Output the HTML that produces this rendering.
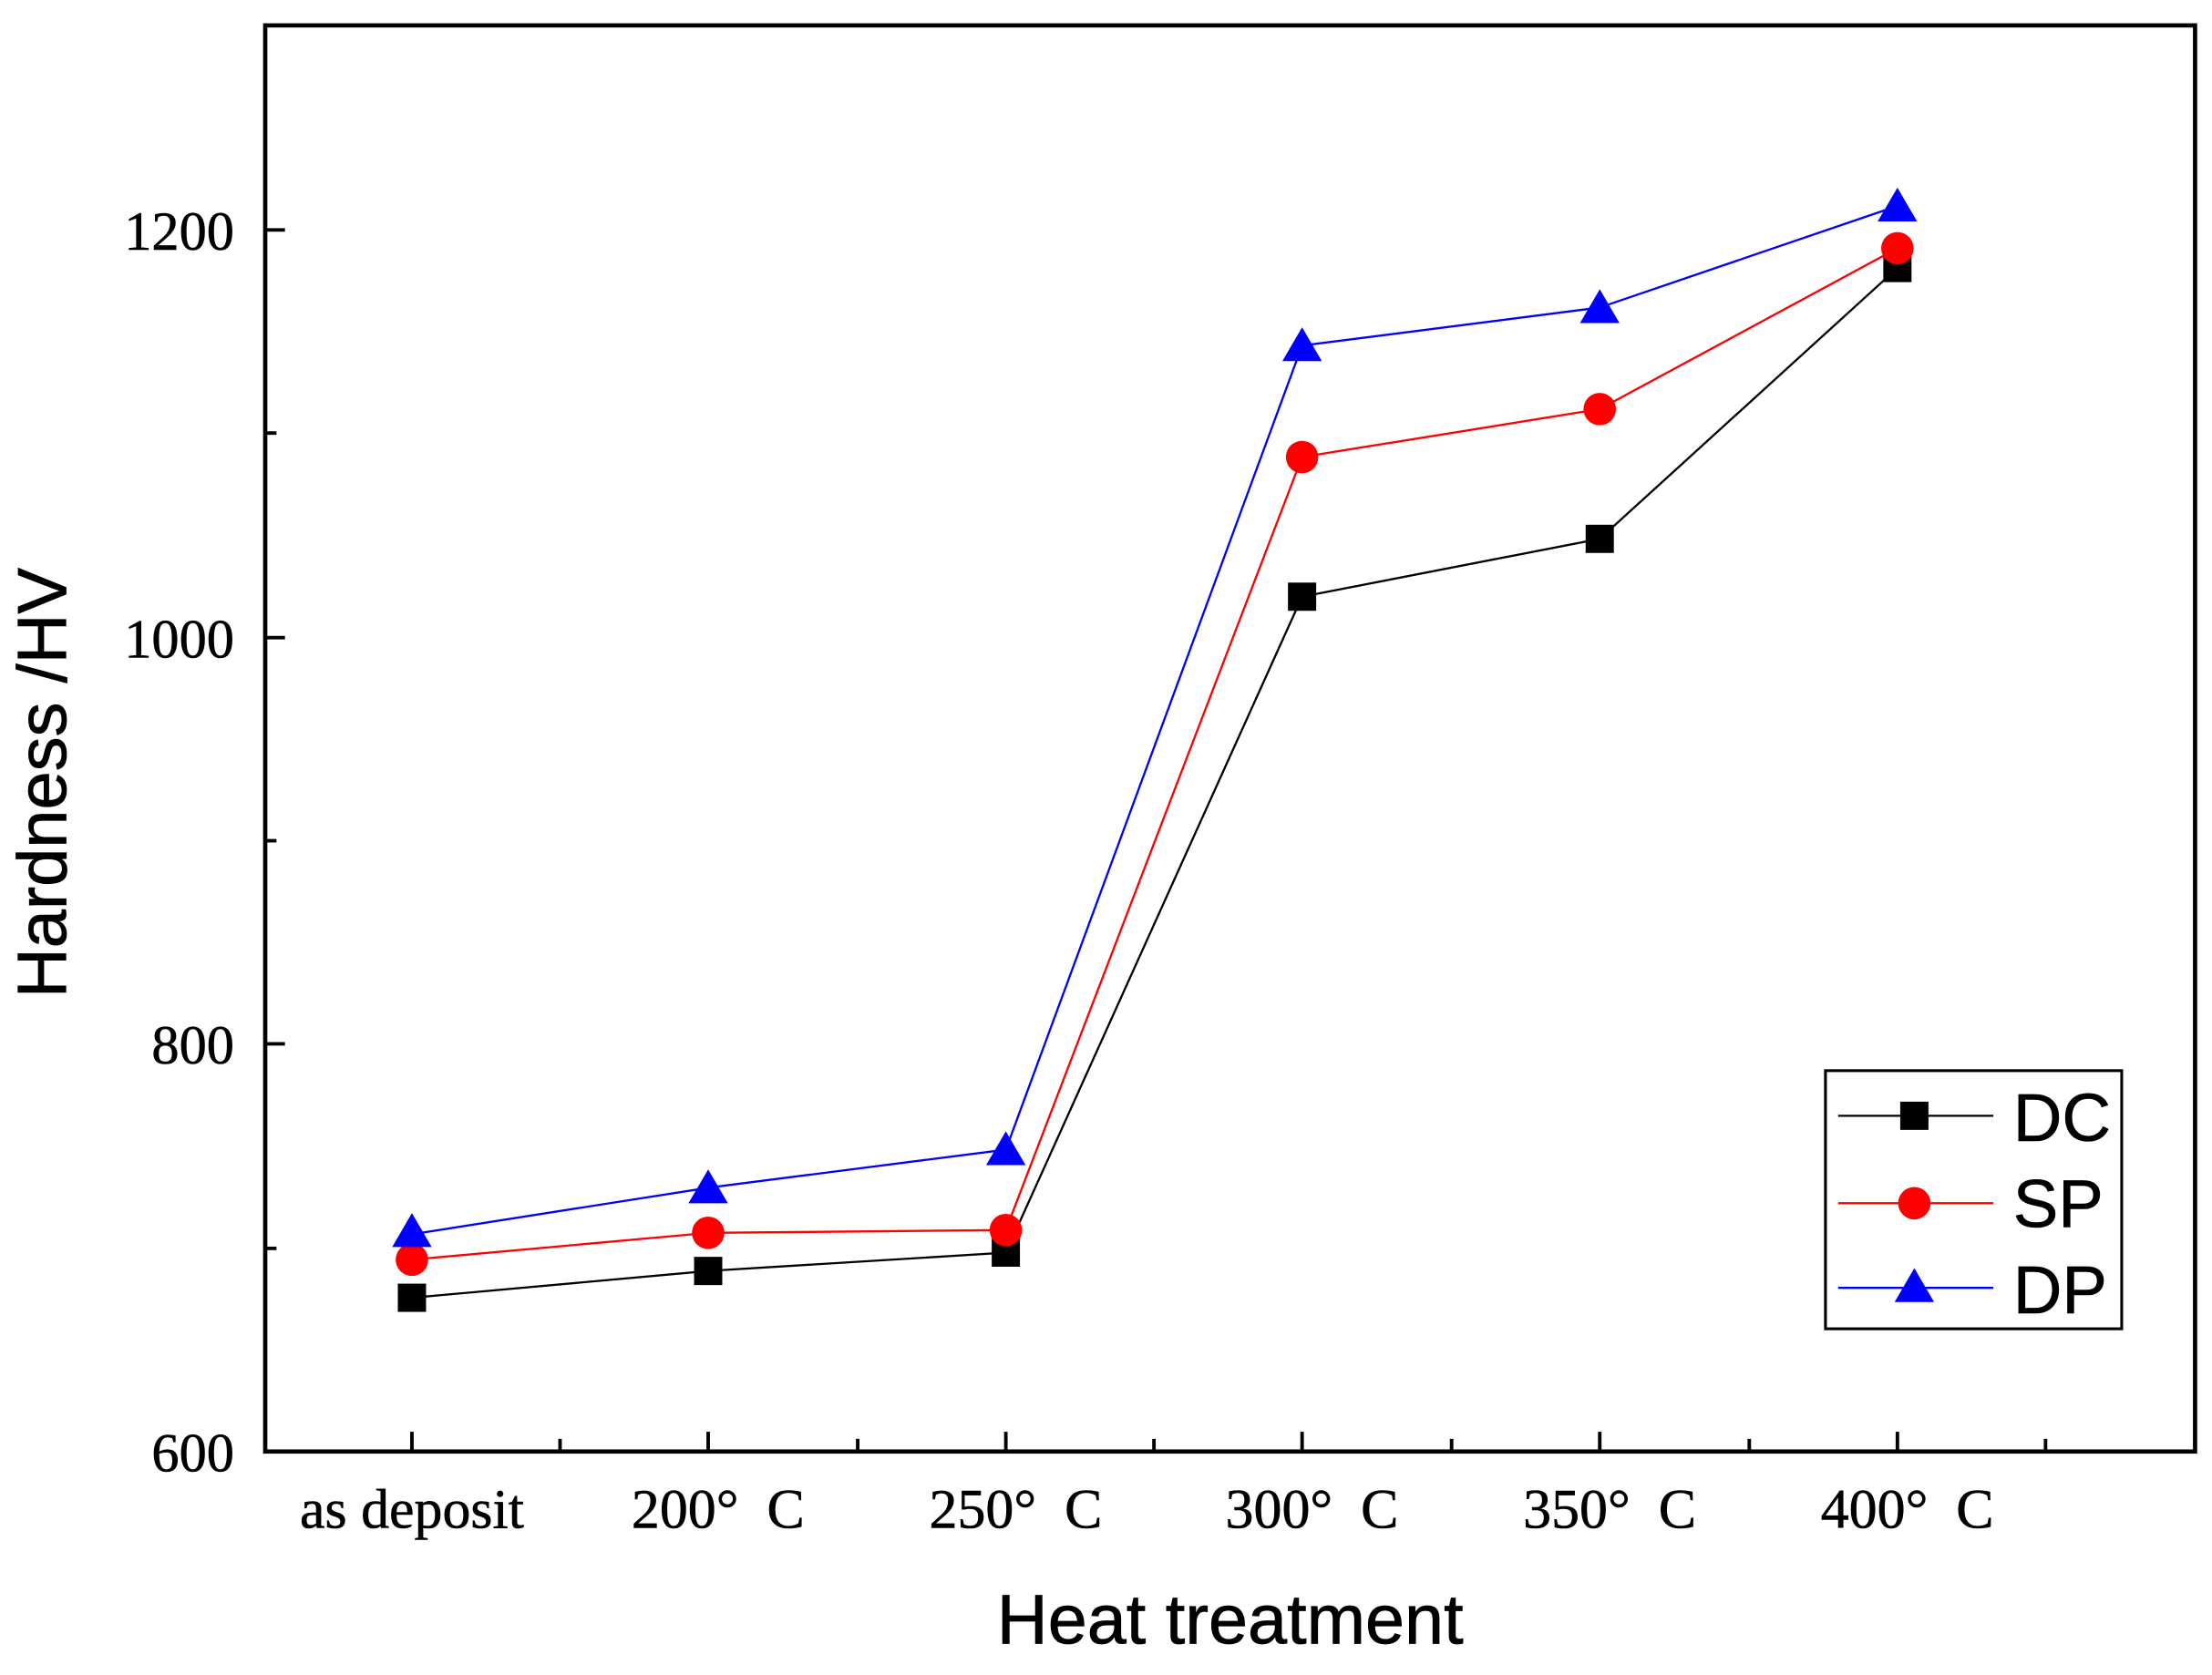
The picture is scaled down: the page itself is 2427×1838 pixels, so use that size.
<!DOCTYPE html>
<html><head><meta charset="utf-8"><style>html,body{margin:0;padding:0;background:#fff}</style></head>
<body>
<svg width="2427" height="1833" viewBox="0 0 1568 1184.2" xmlns="http://www.w3.org/2000/svg" preserveAspectRatio="none">
<rect width="1568" height="1185" fill="#fff"/>
<rect x="188" y="18" width="1368" height="1011" fill="none" stroke="#000" stroke-width="3"/>
<g stroke="#000" stroke-width="2.5">
<line x1="188" y1="163" x2="202" y2="163"/><line x1="188" y1="452" x2="202" y2="452"/><line x1="188" y1="740" x2="202" y2="740"/>
<line x1="188" y1="307" x2="196" y2="307"/><line x1="188" y1="596" x2="196" y2="596"/><line x1="188" y1="885" x2="196" y2="885"/>
<line x1="292" y1="1029" x2="292" y2="1015"/><line x1="502" y1="1029" x2="502" y2="1015"/><line x1="713" y1="1029" x2="713" y2="1015"/><line x1="923" y1="1029" x2="923" y2="1015"/><line x1="1134" y1="1029" x2="1134" y2="1015"/><line x1="1345" y1="1029" x2="1345" y2="1015"/>
<line x1="397" y1="1029" x2="397" y2="1020"/><line x1="608" y1="1029" x2="608" y2="1020"/><line x1="818" y1="1029" x2="818" y2="1020"/><line x1="1029" y1="1029" x2="1029" y2="1020"/><line x1="1240" y1="1029" x2="1240" y2="1020"/><line x1="1450" y1="1029" x2="1450" y2="1020"/>
</g>
<g font-family="Liberation Serif, serif" font-size="39" fill="#000" stroke="#000" stroke-width="0.4">
<g text-anchor="end"><text x="166" y="177">1200</text><text x="166" y="466">1000</text><text x="166" y="754">800</text><text x="166" y="1043">600</text></g>
<g text-anchor="middle" font-size="40"><text x="292" y="1083">as deposit</text><text x="509" y="1083" xml:space="preserve">200°  C</text><text x="720" y="1083" xml:space="preserve">250°  C</text><text x="930" y="1083" xml:space="preserve">300°  C</text><text x="1141" y="1083" xml:space="preserve">350°  C</text><text x="1352" y="1083" xml:space="preserve">400°  C</text></g>
</g>
<g font-family="Liberation Sans, sans-serif" font-size="50" fill="#000" stroke="#000" stroke-width="0.5">
<text x="872" y="1165" text-anchor="middle">Heat treatment</text>
<text transform="translate(47,555) rotate(-90)" text-anchor="middle" font-size="49">Hardness /HV</text>
</g>
<polyline points="292,920 502,901 713,888 923,423 1134,382 1345,190" fill="none" stroke="#000" stroke-width="1.5"/>
<polyline points="292,893 502,874 713,872 923,324 1134,290 1345,176" fill="none" stroke="#f00" stroke-width="1.5"/>
<polyline points="292,875 502,842 713,815 923,245 1134,218 1345,146" fill="none" stroke="#00f" stroke-width="1.5"/>
<g fill="#000"><rect x="282" y="910" width="20" height="20"/><rect x="492" y="891" width="20" height="20"/><rect x="703" y="878" width="20" height="20"/><rect x="913" y="413" width="20" height="20"/><rect x="1124" y="372" width="20" height="20"/><rect x="1335" y="180" width="20" height="20"/></g>
<g fill="#f00"><circle cx="292" cy="893" r="11.5"/><circle cx="502" cy="874" r="11.5"/><circle cx="713" cy="872" r="11.5"/><circle cx="923" cy="324" r="11.5"/><circle cx="1134" cy="290" r="11.5"/><circle cx="1345" cy="176" r="11.5"/></g>
<g fill="#00f">
<polygon points="292,860 278,884 306,884"/><polygon points="502,829 488,853 516,853"/><polygon points="713,802 699,826 727,826"/><polygon points="923,232 909,256 937,256"/><polygon points="1134,205 1120,229 1148,229"/><polygon points="1345,133 1331,157 1359,157"/>
</g>
<rect x="1294" y="759" width="210" height="183" fill="#fff" stroke="#000" stroke-width="2"/>
<line x1="1303" y1="791" x2="1413" y2="791" stroke="#000" stroke-width="1.5"/><rect x="1347" y="781" width="20" height="20" fill="#000"/>
<line x1="1303" y1="853" x2="1413" y2="853" stroke="#f00" stroke-width="1.5"/><circle cx="1357" cy="853" r="11.5" fill="#f00"/>
<line x1="1303" y1="913" x2="1413" y2="913" stroke="#00f" stroke-width="1.5"/><polygon points="1357,899 1343,923 1371,923" fill="#00f"/>
<g font-family="Liberation Sans, sans-serif" font-size="48" stroke="#000" stroke-width="0.4"><text x="1427" y="809">DC</text><text x="1427" y="870">SP</text><text x="1427" y="931">DP</text></g>
</svg>
</body></html>
